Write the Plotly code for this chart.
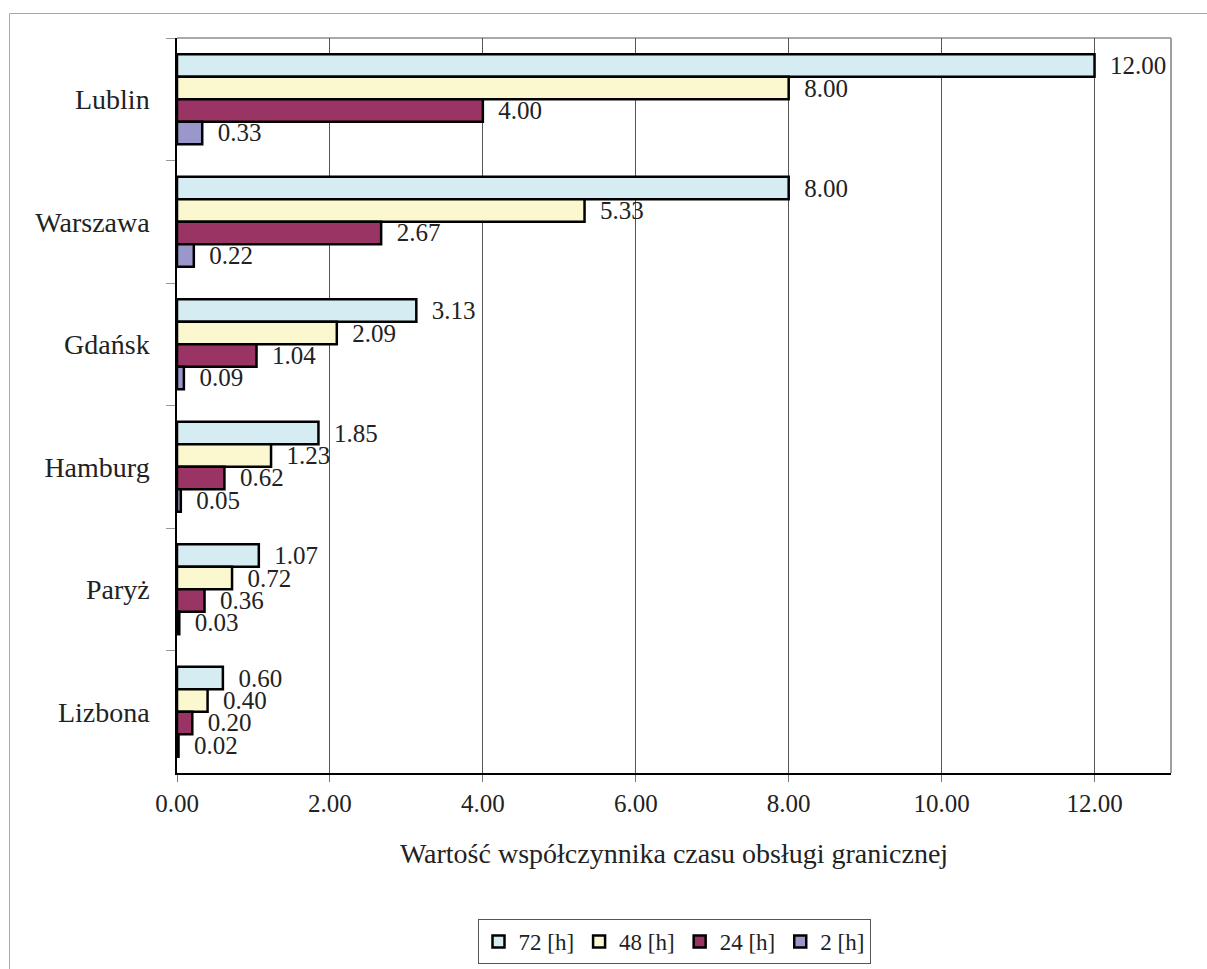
import plotly.graph_objects as go

# Cities (top to bottom) and the border-service time coefficient for each time window
cities = ["Lublin", "Warszawa", "Gdańsk", "Hamburg", "Paryż", "Lizbona"]
v72 = [12.00, 8.00, 3.13, 1.85, 1.07, 0.60]
v48 = [8.00, 5.33, 2.09, 1.23, 0.72, 0.40]
v24 = [4.00, 2.67, 1.04, 0.62, 0.36, 0.20]
v2 = [0.33, 0.22, 0.09, 0.05, 0.03, 0.02]

series_names = ["72 [h]", "48 [h]", "24 [h]", "2 [h]"]
series_values = [v72, v48, v24, v2]
series_colors = ["#D4ECF2", "#FBF8CF", "#9A3464", "#9A98CA"]

x_ticks = [0, 2, 4, 6, 8, 10, 12]
x_title = "Wartość współczynnika czasu obsługi granicznej"

FONT = "Liberation Serif, Times New Roman, serif"
W, H = 1207, 969
ML, MR, MT, MB = 177, 36, 38, 196
PW, PH = W - ML - MR, H - MT - MB


def px_to_paper_x(px):
    return (px - ML) / PW


def px_to_paper_y(py):
    return (H - MB - py) / PH


fig = go.Figure()
for name, vals, col in zip(series_names, series_values, series_colors):
    fig.add_trace(go.Bar(
        name=name,
        y=cities,
        x=vals,
        orientation="h",
        marker=dict(color=col, line=dict(color="#000000", width=2.5)),
        texttemplate="\u00a0\u00a0%{x:.2f}",
        textposition="outside",
        constraintext="none",
        cliponaxis=False,
        textfont=dict(family=FONT, size=25, color="#222222"),
        hoverinfo="skip",
    ))

shapes = [
    # outer chart frame
    dict(type="rect", xref="paper", yref="paper",
         x0=px_to_paper_x(9.5), x1=px_to_paper_x(1230),
         y0=px_to_paper_y(1000), y1=px_to_paper_y(13.5),
         line=dict(color="#A8A8A8", width=1), layer="below"),
    # plot area top edge
    dict(type="line", xref="paper", yref="paper", x0=0, x1=1, y0=1, y1=1,
         line=dict(color="#555555", width=1)),
    # plot area right edge
    dict(type="line", xref="paper", yref="paper", x0=1, x1=1, y0=0, y1=1,
         line=dict(color="#A0A0A0", width=2)),
]

fig.update_layout(
    width=W, height=H,
    margin=dict(l=ML, r=MR, t=MT, b=MB, pad=0, autoexpand=False),
    paper_bgcolor="white",
    plot_bgcolor="white",
    barmode="group",
    bargap=0.266,
    bargroupgap=0,
    font=dict(family=FONT, color="#222222"),
    shapes=shapes,
    showlegend=True,
    legend=dict(
        orientation="h",
        x=0.5, xanchor="center",
        y=px_to_paper_y(919), yanchor="top",
        bordercolor="#555555", borderwidth=1,
        font=dict(family=FONT, size=23, color="#222222"),
        traceorder="normal",
        itemwidth=30,
    ),
    xaxis=dict(
        range=[0, 13],
        tickvals=x_ticks,
        tickformat=".2f",
        showgrid=True, gridcolor="#555555", gridwidth=1,
        zeroline=False,
        showline=True, linecolor="#000000", linewidth=1.5,
        ticks="outside", ticklen=7, tickcolor="#777777",
        ticklabelstandoff=0,
        tickfont=dict(family=FONT, size=25, color="#222222"),
        title=dict(text=x_title, font=dict(family=FONT, size=28, color="#222222"), standoff=28),
        automargin=False,
        fixedrange=True,
    ),
    yaxis=dict(
        categoryorder="array",
        categoryarray=cities,
        autorange="reversed",
        showgrid=False,
        zeroline=False,
        showline=True, linecolor="#000000", linewidth=1.5,
        ticks="outside", ticklen=9, tickcolor="#999999", tickson="boundaries",
        tickfont=dict(family=FONT, size=28, color="#222222"),
        ticklabelstandoff=20,
        automargin=False,
        fixedrange=True,
    ),
)

fig.write_html("out.html")
